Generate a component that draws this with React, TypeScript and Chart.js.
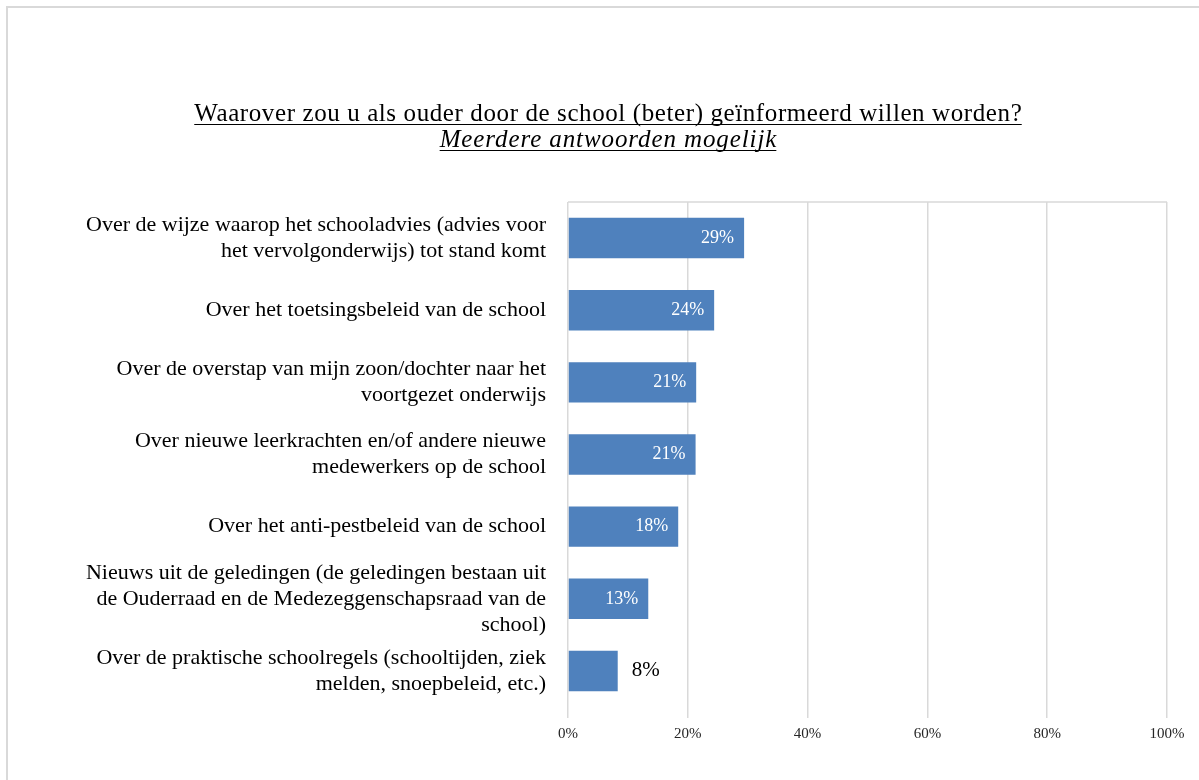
import React, { useEffect, useRef } from "react";
import { Chart, registerables } from "chart.js";

Chart.register(...registerables);

const TITLE = "Waarover zou u als ouder door de school (beter) geïnformeerd willen worden?";
const SUBTITLE = "Meerdere antwoorden mogelijk";

const categories: string[][] = [
  ["Over de wijze waarop het schooladvies (advies voor", "het vervolgonderwijs) tot stand komt"],
  ["Over het toetsingsbeleid van de school"],
  ["Over de overstap van mijn zoon/dochter naar het", "voortgezet onderwijs"],
  ["Over nieuwe leerkrachten en/of andere nieuwe", "medewerkers op de school"],
  ["Over het anti-pestbeleid van de school"],
  ["Nieuws uit de geledingen (de geledingen bestaan uit", "de Ouderraad en de Medezeggenschapsraad van de", "school)"],
  ["Over de praktische schoolregels (schooltijden, ziek", "melden, snoepbeleid, etc.)"],
];

const values: number[] = [29.4, 24.4, 21.4, 21.3, 18.4, 13.4, 8.3];
const valueLabels: string[] = ["29%", "24%", "21%", "21%", "18%", "13%", "8%"];
const xTicks: number[] = [0, 20, 40, 60, 80, 100];

const FONT = '"Liberation Serif", "Times New Roman", serif';
const GRID = "#d9d9d9";
const BAR = "#4f81bd";

const decorPlugin = {
  id: "decor",
  afterDraw(chart: any) {
    const { ctx, chartArea } = chart;
    const cx = 600;
    ctx.save();
    ctx.fillStyle = "#000";
    ctx.strokeStyle = "#000";
    ctx.lineWidth = 1;
    ctx.textAlign = "left";
    ctx.textBaseline = "alphabetic";
    const drawUnder = (text: string, font: string, spacing: number, y: number) => {
      ctx.font = font;
      (ctx as any).letterSpacing = `${spacing}px`;
      const w = ctx.measureText(text).width - spacing;
      const x0 = cx - w / 2;
      ctx.fillText(text, x0, y);
      ctx.beginPath();
      ctx.moveTo(x0, y + 3.5);
      ctx.lineTo(x0 + w, y + 3.5);
      ctx.stroke();
      (ctx as any).letterSpacing = "0px";
    };
    drawUnder(TITLE, `25px ${FONT}`, 0.6, 113);
    drawUnder(SUBTITLE, `italic 25px ${FONT}`, 0.9, 139);

    // top border of plot area
    ctx.strokeStyle = GRID;
    ctx.lineWidth = 1.5;
    ctx.beginPath();
    ctx.moveTo(chartArea.left, chartArea.top);
    ctx.lineTo(chartArea.right, chartArea.top);
    ctx.stroke();

    // value labels
    const meta = chart.getDatasetMeta(0);
    meta.data.forEach((bar: any, i: number) => {
      const v = values[i];
      ctx.textBaseline = "middle";
      if (v >= 10) {
        ctx.font = `18px ${FONT}`;
        ctx.fillStyle = "#ffffff";
        ctx.textAlign = "right";
        ctx.fillText(valueLabels[i], bar.x - 10, bar.y);
      } else {
        ctx.font = `21px ${FONT}`;
        ctx.fillStyle = "#000000";
        ctx.textAlign = "left";
        ctx.fillText(valueLabels[i], bar.x + 14, bar.y);
      }
    });
    ctx.restore();
  },
};

export default function App() {
  const ref = useRef<HTMLCanvasElement>(null);

  useEffect(() => {
    if (!ref.current) return;
    const chart = new Chart(ref.current, {
      type: "bar",
      data: {
        labels: categories,
        datasets: [
          {
            data: values,
            backgroundColor: BAR,
            borderWidth: 0,
            categoryPercentage: 1,
            barPercentage: 0.56,
          },
        ],
      },
      options: {
        indexAxis: "y",
        animation: false,
        responsive: false,
        devicePixelRatio: 1,
        layout: { padding: { top: 194, right: 32, bottom: 33, left: 0 } },
        plugins: {
          legend: { display: false },
          tooltip: { enabled: false },
          title: { display: false },
        },
        scales: {
          x: {
            min: 0,
            max: 100,
            afterBuildTicks: (scale: any) => {
              scale.ticks = xTicks.map((v) => ({ value: v }));
            },
            afterFit: (scale: any) => {
              scale.height = 40;
            },
            grid: {
              color: GRID,
              lineWidth: 1.5,
              drawTicks: true,
              tickLength: 11,
              tickColor: GRID,
            },
            border: { display: false },
            ticks: {
              padding: 7,
              color: "#262626",
              font: { family: FONT, size: 15 },
              callback: (v: any) => `${v}%`,
              maxRotation: 0,
            },
          },
          y: {
            afterFit: (scale: any) => {
              scale.width = 560;
            },
            grid: { display: false, drawTicks: false },
            border: { display: false },
            ticks: {
              padding: 22,
              color: "#000000",
              font: { family: FONT, size: 22, lineHeight: "26px" as any },
              autoSkip: false,
            },
          },
        },
      },
      plugins: [decorPlugin],
    });
    return () => chart.destroy();
  }, []);

  return (
    <div style={{ position: "fixed", left: 0, top: 0, width: 1199, height: 780, overflow: "hidden", background: "#fff" }}>
      <div
        style={{
          position: "absolute",
          left: 6,
          top: 6,
          width: 1300,
          height: 900,
          border: `2px solid ${GRID}`,
          boxSizing: "border-box",
        }}
      />
      <canvas ref={ref} width={1191} height={772} style={{ position: "absolute", left: 8, top: 8, width: 1191, height: 772 }} />
    </div>
  );
}
